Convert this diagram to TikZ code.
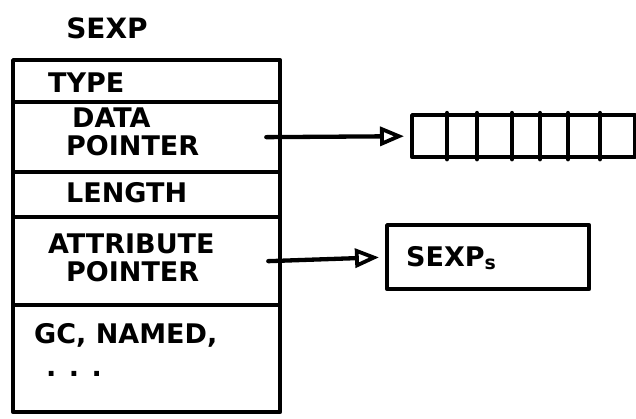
\documentclass[tikz,border=0pt]{standalone}
\usepackage{fontspec}
\setmainfont{DejaVu Sans}
\usetikzlibrary{arrows.meta}
\begin{document}
\begin{tikzpicture}[x=1pt,y=-1pt,
  line width=4.3pt, line cap=round, line join=round,
  row/.style={draw, rectangle, minimum width=267pt, anchor=north west, inner sep=0pt},
  lbl/.style={font=\bfseries\fontsize{27}{29}\selectfont, inner sep=0pt, align=left},
  ptr/.style={-{Triangle[open,length=24pt,width=19pt,line width=3.8pt]}, shorten >=6pt}]
\useasboundingbox (0,0) rectangle (636,418);
\node[lbl, font=\bfseries\fontsize{28}{30}\selectfont] (title) at (107,28) {SEXP};
% rows of the record
\node[row, minimum height=42pt] (type) at (11,58) {};
\node[row, minimum height=70pt] (data) at (11,100) {};
\node[row, minimum height=45pt] (len) at (11,170) {};
\node[row, minimum height=88pt] (attr) at (11,215) {};
\node[row, minimum height=107pt] (gc) at (11,303) {};
% labels
\node[lbl, anchor=west] (ttype) at (46,83) {TYPE};
\node[lbl, anchor=west] (tdata) at (70,118) {DATA};
\node[lbl, anchor=west] (tdptr) at (64,146) {POINTER};
\node[lbl, anchor=west] (tlen) at (64,193) {LENGTH};
\node[lbl, anchor=west] (tattr) at (46,244) {ATTRIBUTE};
\node[lbl, anchor=west] (taptr) at (64,272) {POINTER};
\node[lbl, anchor=west] (tgc) at (32,335) {GC, NAMED,};
\node[lbl, anchor=west] (tdots) at (44,374) {. . .};
% data array
\node[draw, rectangle, minimum width=223pt, minimum height=42pt, anchor=north west, inner sep=0pt] (arr) at (410,113) {};
\foreach \d in {37,67,102,130,158,190}
  \draw ([xshift=\d pt]arr.north west) -- ([xshift=\d pt]arr.south west);
% attribute list
\node[draw, rectangle, minimum width=202pt, minimum height=64pt, anchor=north west, inner sep=0pt] (sx) at (385,223) {};
\node[lbl, anchor=west] (tsx) at (404,258) {SEXP\textsubscript{s}};
% pointers
\draw[ptr] ([xshift=-16pt]data.east) -- (arr.west);
\draw[ptr] ([xshift=-14pt]attr.east) -- (sx.west);
\end{tikzpicture}
\end{document}
